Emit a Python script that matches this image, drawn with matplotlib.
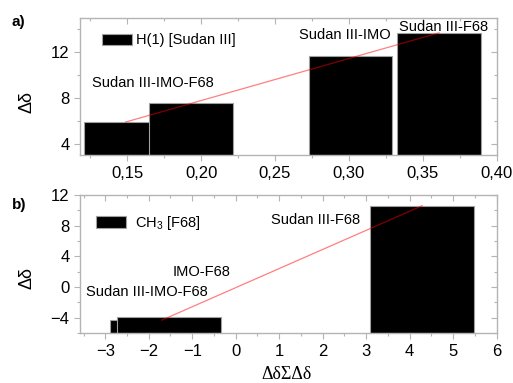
import matplotlib
matplotlib.use("Agg")
import matplotlib.pyplot as plt
from matplotlib.ticker import MultipleLocator, FixedLocator

# ---- data ----
# panel a
a_x = [0.149, 0.193, 0.301, 0.361]
a_width = 0.0566
a_vals = [5.9, 7.6, 11.7, 13.7]
a_labels = ["Sudan III-IMO-F68", "Sudan III-IMO", "Sudan III-F68"]
a_label_pos = [(0.126, 9.3), (0.266, 13.55), (0.334, 14.25)]
a_xticks = [0.15, 0.20, 0.25, 0.30, 0.35, 0.40]
a_xticklabels = ["0,15", "0,20", "0,25", "0,30", "0,35", "0,40"]
a_yticks = [4, 8, 12]
a_legend = "H(1) [Sudan III]"

# panel b
b_x = [-1.70, -1.54, 4.29]
b_width = 2.4
b_vals = [-4.3, -3.9, 10.6]
b_labels = ["IMO-F68", "Sudan III-IMO-F68", "Sudan III-F68"]
b_label_pos = [(-1.46, 2.0), (-3.44, -0.6), (0.82, 8.7)]
b_xticks = [-3, -2, -1, 0, 1, 2, 3, 4, 5, 6]
b_yticks = [-4, 0, 4, 8, 12]
b_legend = "CH$_3$ [F68]"

plt.rcParams['font.family'] = ['Liberation Sans', 'DejaVu Sans']
plt.rcParams['mathtext.fontset'] = 'custom'
plt.rcParams['mathtext.rm'] = 'Liberation Sans'

spine_c = "#b4b4b4"

fig = plt.figure(figsize=(5.13, 3.83), dpi=100)
ax1 = fig.add_axes([0.156, 0.595, 0.812, 0.358])
ax2 = fig.add_axes([0.156, 0.130, 0.812, 0.361])


def style(ax, xmaj, xmin, ymaj, ymin):
    for s in ax.spines.values():
        s.set_color(spine_c)
        s.set_linewidth(1.0)
    ax.xaxis.set_major_locator(FixedLocator(xmaj))
    ax.xaxis.set_minor_locator(MultipleLocator(xmin))
    ax.yaxis.set_major_locator(FixedLocator(ymaj))
    ax.yaxis.set_minor_locator(MultipleLocator(ymin))
    ax.tick_params(which='both', direction='out', colors=spine_c,
                   labelcolor='black', labelsize=12)
    ax.tick_params(which='major', length=4.5, width=0.8, pad=3)
    ax.tick_params(which='minor', length=2.5, width=0.8)
    sx = ax.secondary_xaxis('top')
    sy = ax.secondary_yaxis('right')
    for sa, loc in ((sx, 'x'), (sy, 'y')):
        sa.spines[:].set_visible(False) if hasattr(sa.spines, '__getitem__') else None
        if loc == 'x':
            sa.xaxis.set_major_locator(FixedLocator(xmaj))
            sa.xaxis.set_minor_locator(MultipleLocator(xmin))
        else:
            sa.yaxis.set_major_locator(FixedLocator(ymaj))
            sa.yaxis.set_minor_locator(MultipleLocator(ymin))
        sa.tick_params(which='both', direction='in', colors=spine_c,
                       labeltop=False, labelright=False, labelbottom=False,
                       labelleft=False)
        sa.tick_params(which='major', length=4.5, width=0.8)
        sa.tick_params(which='minor', length=2.5, width=0.8)


# ---- panel a ----
ya0, ya1 = 3, 15
ax1.set_xlim(0.118, 0.40)
ax1.set_ylim(ya0, ya1)
bars_a = ax1.bar(a_x, [v - ya0 for v in a_vals], width=a_width, bottom=ya0,
                 color='black', edgecolor='#a0a0a0', linewidth=0.8,
                 label=a_legend, zorder=2)
ax1.plot([a_x[0], a_x[-1]], [a_vals[0], a_vals[-1]], color='red',
         alpha=0.5, lw=0.9, zorder=3)
for t, (x, y) in zip(a_labels, a_label_pos):
    ax1.text(x, y, t, fontsize=10.5, ha='left', va='center', zorder=4)
style(ax1, a_xticks, 0.025, a_yticks, 2)
ax1.set_xticklabels(a_xticklabels)
ax1.set_ylabel("Δδ", fontsize=13)
ax1.yaxis.set_label_coords(-0.108, 0.39)
ax1.legend(loc='center left', bbox_to_anchor=(0.053, 0.836), frameon=False,
           fontsize=10.5, borderpad=0, borderaxespad=0, handlelength=2.05,
           handleheight=0.85, handletextpad=0.28)

# ---- panel b ----
yb0, yb1 = -6, 12
ax2.set_xlim(-3.58, 6)
ax2.set_ylim(yb0, yb1)
bars_b = ax2.bar(b_x, [v - yb0 for v in b_vals], width=b_width, bottom=yb0,
                 color='black', edgecolor='#a0a0a0', linewidth=0.8,
                 label=b_legend, zorder=2)
ax2.plot([b_x[0], b_x[-1]], [b_vals[0], b_vals[-1]], color='red',
         alpha=0.5, lw=0.9, zorder=3)
for t, (x, y) in zip(b_labels, b_label_pos):
    ax2.text(x, y, t, fontsize=10.5, ha='left', va='center', zorder=4)
style(ax2, b_xticks, 0.5, b_yticks, 2)
ax2.set_ylabel("Δδ", fontsize=13)
ax2.yaxis.set_label_coords(-0.108, 0.40)
ax2.set_xlabel("ΔδΣΔδ", fontsize=13, family=['Liberation Serif', 'DejaVu Serif'])
ax2.xaxis.set_label_coords(0.495, -0.24)
ax2.legend(loc='center left', bbox_to_anchor=(0.038, 0.797), frameon=False,
           fontsize=10.5, borderpad=0, borderaxespad=0, handlelength=2.1,
           handleheight=0.85, handletextpad=0.55)

fig.text(12 / 513, 1 - 22 / 383, "a)", fontsize=11, fontweight='bold',
         ha='left', va='center')
fig.text(12 / 513, 1 - 205 / 383, "b)", fontsize=11, fontweight='bold',
         ha='left', va='center')

fig.savefig("out.png", dpi=100)
